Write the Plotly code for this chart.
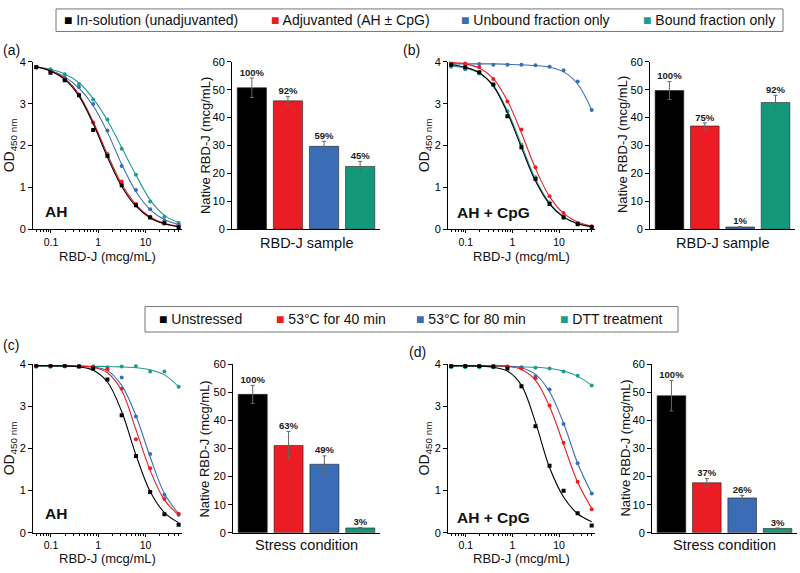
import plotly.graph_objects as go

# ---------------- data ----------------
conc = [0.0488, 0.0977, 0.1953, 0.3906, 0.7813, 1.5625, 3.125, 6.25, 12.5, 25, 50]

# Panel (a) AH : measured points and fitted curve values
a_black_pts = [3.87, 3.74, 3.56, 3.20, 2.37, 1.75, 1.05, 0.57, 0.28, 0.14, 0.05]
a_black_fit = [3.88, 3.78, 3.58, 3.18, 2.52, 1.72, 1.02, 0.55, 0.27, 0.13, 0.06]
a_red_pts = [3.87, 3.75, 3.58, 3.22, 2.55, 1.80, 1.14, 0.60, 0.30, 0.15, 0.06]
a_red_fit = [3.88, 3.79, 3.60, 3.22, 2.57, 1.79, 1.08, 0.59, 0.29, 0.14, 0.07]
a_blue_pts = [3.87, 3.78, 3.62, 3.40, 2.99, 2.36, 1.51, 0.94, 0.48, 0.20, 0.12]
a_blue_fit = [3.87, 3.79, 3.64, 3.37, 2.95, 2.32, 1.55, 0.90, 0.47, 0.23, 0.11]
a_teal_pts = [3.88, 3.82, 3.70, 3.47, 3.10, 2.62, 1.92, 1.30, 0.66, 0.30, 0.15]
a_teal_fit = [3.88, 3.82, 3.71, 3.50, 3.12, 2.60, 1.95, 1.30, 0.70, 0.33, 0.16]

# Panel (b) AH + CpG
b_black_pts = [3.93, 3.87, 3.75, 3.46, 2.70, 1.96, 1.20, 0.60, 0.28, 0.12, 0.05]
b_black_fit = [3.93, 3.87, 3.74, 3.42, 2.78, 1.95, 1.15, 0.60, 0.29, 0.13, 0.06]
b_red_pts = [4.00, 3.97, 3.87, 3.59, 3.05, 2.38, 1.48, 0.79, 0.39, 0.15, 0.07]
b_red_fit = [3.98, 3.95, 3.85, 3.60, 3.07, 2.30, 1.45, 0.78, 0.38, 0.17, 0.07]
b_blue_pts = [3.95, 3.95, 3.95, 3.93, 3.93, 3.93, 3.92, 3.88, 3.80, 3.53, 2.85]
b_blue_fit = [3.95, 3.95, 3.95, 3.95, 3.94, 3.93, 3.91, 3.87, 3.76, 3.47, 2.85]
b_teal_pts = [3.88, 3.82, 3.72, 3.45, 2.82, 2.02, 1.24, 0.64, 0.30, 0.14, 0.06]
b_teal_fit = [3.90, 3.85, 3.73, 3.44, 2.83, 2.02, 1.20, 0.63, 0.30, 0.14, 0.06]

# Panel (c) AH, stress conditions
c_black_pts = [3.97, 3.97, 3.97, 3.95, 3.90, 3.64, 2.79, 1.82, 0.97, 0.44, 0.19]
c_black_fit = [3.97, 3.97, 3.96, 3.94, 3.86, 3.58, 2.88, 1.85, 0.98, 0.48, 0.24]
c_red_pts = [3.96, 3.96, 3.96, 3.96, 3.93, 3.89, 3.42, 2.22, 1.53, 0.80, 0.45]
c_red_fit = [3.97, 3.97, 3.97, 3.96, 3.93, 3.80, 3.38, 2.45, 1.48, 0.78, 0.42]
c_blue_pts = [3.96, 3.96, 3.96, 3.96, 3.95, 3.88, 3.69, 2.76, 1.87, 0.90, 0.43]
c_blue_fit = [3.97, 3.97, 3.97, 3.96, 3.94, 3.85, 3.50, 2.78, 1.80, 0.93, 0.45]
c_teal_pts = [3.94, 3.94, 3.95, 3.95, 3.95, 3.93, 3.95, 3.96, 3.83, 3.83, 3.47]
c_teal_fit = [3.95, 3.95, 3.95, 3.95, 3.95, 3.95, 3.94, 3.92, 3.87, 3.75, 3.47]

# Panel (d) AH + CpG, stress conditions
d_black_pts = [3.96, 3.96, 3.96, 3.95, 3.90, 3.48, 2.53, 1.59, 1.00, 0.46, 0.17]
d_black_fit = [3.97, 3.97, 3.96, 3.93, 3.84, 3.50, 2.62, 1.55, 0.85, 0.45, 0.26]
d_red_pts = [3.96, 3.96, 3.96, 3.96, 3.95, 3.90, 3.67, 3.02, 2.14, 1.21, 0.56]
d_red_fit = [3.97, 3.97, 3.97, 3.97, 3.95, 3.88, 3.62, 3.00, 2.10, 1.20, 0.58]
d_blue_pts = [3.96, 3.96, 3.96, 3.96, 3.95, 3.92, 3.72, 3.40, 2.58, 1.65, 0.93]
d_blue_fit = [3.97, 3.97, 3.97, 3.97, 3.96, 3.92, 3.76, 3.35, 2.60, 1.65, 0.93]
d_teal_pts = [3.93, 3.93, 3.93, 3.93, 3.93, 3.93, 3.92, 3.90, 3.83, 3.73, 3.50]
d_teal_fit = [3.95, 3.95, 3.95, 3.95, 3.95, 3.94, 3.93, 3.90, 3.84, 3.72, 3.50]

# Bar panels
sample_cats = ["In-solution (unadjuvanted)", "Adjuvanted (AH ± CpG)",
               "Unbound fraction only", "Bound fraction only"]
stress_cats = ["Unstressed", "53°C for 40 min", "53°C for 80 min", "DTT treatment"]

a_vals = [50.7, 46.0, 29.7, 22.5]
a_err = [3.5, 1.5, 1.8, 1.8]
a_pct = ["100%", "92%", "59%", "45%"]
b_vals = [49.7, 37.0, 0.8, 45.4]
b_err = [3.2, 1.1, 0.2, 2.6]
b_pct = ["100%", "75%", "1%", "92%"]
c_vals = [49.3, 31.1, 24.4, 1.7]
c_err = [3.2, 5.0, 3.0, 0.2]
c_pct = ["100%", "63%", "49%", "3%"]
d_vals = [48.8, 17.8, 12.4, 1.5]
d_err = [5.4, 1.5, 0.9, 0.2]
d_pct = ["100%", "37%", "26%", "3%"]

# ---------------- styling ----------------
BLACK = "#000000"
RED = "#EC1C24"
BLUE = "#3A6DB5"
TEAL = "#1E9C8E"
GREEN = "#13997A"
bar_colors = [BLACK, RED, BLUE, GREEN]
curve_colors = [BLACK, RED, BLUE, TEAL]
FONT = "Liberation Sans, Arial, sans-serif"
TXT = "#111"

W, H = 800, 573
def dx(a, b):
    return [a / W, b / W]
def dy(top, bottom):
    return [1 - bottom / H, 1 - top / H]
def px(x, y):
    return x / W, 1 - y / H

fig = go.Figure()

curve_sets = {
    1: [(a_black_pts, a_black_fit), (a_red_pts, a_red_fit), (a_blue_pts, a_blue_fit), (a_teal_pts, a_teal_fit)],
    3: [(b_black_pts, b_black_fit), (b_red_pts, b_red_fit), (b_blue_pts, b_blue_fit), (b_teal_pts, b_teal_fit)],
    5: [(c_black_pts, c_black_fit), (c_red_pts, c_red_fit), (c_blue_pts, c_blue_fit), (c_teal_pts, c_teal_fit)],
    7: [(d_black_pts, d_black_fit), (d_red_pts, d_red_fit), (d_blue_pts, d_blue_fit), (d_teal_pts, d_teal_fit)],
}
for ax, sets in curve_sets.items():
    xa = "x" if ax == 1 else f"x{ax}"
    ya = "y" if ax == 1 else f"y{ax}"
    for i in [3, 2, 1, 0]:
        pts, fit = sets[i]
        col = curve_colors[i]
        fig.add_trace(go.Scatter(x=conc, y=fit, mode="lines",
                                 line=dict(color=col, width=1.1, shape="spline", smoothing=1.0),
                                 xaxis=xa, yaxis=ya, showlegend=False, hoverinfo="skip"))
        fig.add_trace(go.Scatter(x=conc, y=pts, mode="markers",
                                 marker=dict(color=col, size=4, symbol="square" if i == 0 else "circle"),
                                 xaxis=xa, yaxis=ya, showlegend=False))

bar_sets = {
    2: (sample_cats, a_vals, a_err, a_pct),
    4: (sample_cats, b_vals, b_err, b_pct),
    6: (stress_cats, c_vals, c_err, c_pct),
    8: (stress_cats, d_vals, d_err, d_pct),
}
for ax, (cats, vals, errs, pct) in bar_sets.items():
    xa, ya = f"x{ax}", f"y{ax}"
    fig.add_trace(go.Bar(x=cats, y=vals, marker=dict(color=bar_colors, line=dict(color="#222", width=0.6)),
                         error_y=dict(type="data", array=errs, color="#666", thickness=1, width=2),
                         xaxis=xa, yaxis=ya, showlegend=False))
    tops = [v + e for v, e in zip(vals, errs)]
    fig.add_trace(go.Scatter(x=cats, y=tops, mode="text", text=pct, textposition="top center",
                             textfont=dict(family=FONT, size=9.5, color="#1a1a1a", weight="bold"),
                             xaxis=xa, yaxis=ya, showlegend=False, hoverinfo="skip"))

axis_common = dict(showline=True, linecolor="#000", linewidth=1, ticks="outside", tickcolor="#000",
                   ticklen=4, showgrid=False, zeroline=False,
                   tickfont=dict(family=FONT, size=11, color="#000"), fixedrange=True)

def curve_x(dom, anchor):
    return dict(axis_common, type="log", range=[-1.38, 1.77], dtick=1, domain=dom, anchor=anchor, ticklen=3,
                tickfont=dict(family=FONT, size=10.5, color="#000"),
                minor=dict(ticks="outside", ticklen=2, tickcolor="#000", showgrid=False))
def curve_y(dom, anchor):
    return dict(axis_common, range=[0, 4], dtick=1, domain=dom, anchor=anchor,
                title=dict(text="OD<sub>450 nm</sub>", font=dict(family=FONT, size=14, color=TXT), standoff=1))
def bar_x(dom, anchor):
    return dict(showline=True, linecolor="#000", linewidth=1, ticks="", showticklabels=False,
                showgrid=False, zeroline=False, domain=dom, anchor=anchor, range=[-0.55, 3.55], fixedrange=True)
def bar_y(dom, anchor):
    return dict(axis_common, range=[0, 60], dtick=10, domain=dom, anchor=anchor)

top_y = dy(57, 228)
bot_y = dy(366, 538)

fig.update_layout(
    width=W, height=H, margin=dict(l=0, r=0, t=0, b=0),
    paper_bgcolor="white", plot_bgcolor="white", bargap=0.19, showlegend=False,
    xaxis=curve_x(dx(33, 182), "y"),
    yaxis=curve_y(top_y, "x"),
    xaxis2=bar_x(dx(232, 380), "y2"),
    yaxis2=bar_y(top_y, "x2"),
    xaxis3=curve_x(dx(448, 595), "y3"),
    yaxis3=curve_y(top_y, "x3"),
    xaxis4=bar_x(dx(650, 795), "y4"),
    yaxis4=bar_y(top_y, "x4"),
    xaxis5=curve_x(dx(33, 182), "y5"),
    yaxis5=curve_y(bot_y, "x5"),
    xaxis6=bar_x(dx(233, 380), "y6"),
    yaxis6=bar_y(bot_y, "x6"),
    xaxis7=curve_x(dx(448, 595), "y7"),
    yaxis7=curve_y(bot_y, "x7"),
    xaxis8=bar_x(dx(652, 797), "y8"),
    yaxis8=bar_y(bot_y, "x8"),
)

ann = []
def text(t, x, y, size, xanchor="center", angle=0):
    X, Y = px(x, y)
    ann.append(dict(text=t, x=X, y=Y, xref="paper", yref="paper", xanchor=xanchor, yanchor="middle",
                    showarrow=False, textangle=angle, font=dict(family=FONT, size=size, color=TXT)))

# axis titles
for xc, yc in [(107, 256), (521, 256), (107, 564), (521, 564)]:
    text("RBD-J (mcg/mL)", xc, yc, 13)
text("RBD-J sample", 306, 242, 14.5)
text("RBD-J sample", 722, 242, 14.5)
text("Stress condition", 306, 551, 14.5)
text("Stress condition", 724, 551, 14.5)
for xc, yc in [(205, 142), (622, 142), (205, 452), (626, 452)]:
    text("Native RBD-J (mcg/mL)", xc, yc, 13, angle=-90)

# panel letters
for lab, x, y in [("(a)", 1, 45), ("(b)", 401, 45), ("(c)", 1, 346), ("(d)", 407, 353)]:
    text(lab, x, y, 14, xanchor="left")
# adjuvant labels
for lab, x, y in [("AH", 43, 210), ("AH + CpG", 455, 211), ("AH", 43, 518), ("AH + CpG", 455, 522)]:
    text(f"<b>{lab}</b>", x, y, 15.5, xanchor="left")

# legends (boxes drawn as shapes, entries as text)
shapes = []
def legend(box, items, yc):
    x0, y0, x1, y1 = box
    shapes.append(dict(type="rect", xref="paper", yref="paper", x0=x0 / W, x1=x1 / W, y0=1 - y1 / H, y1=1 - y0 / H,
                       line=dict(color="#777", width=1), fillcolor="white", layer="below"))
    for (label, col, x) in items:
        text(f"<span style='color:{col}'>■</span> {label}", x, yc, 14, xanchor="left")

legend((56, 3, 783, 26), [(sample_cats[0], BLACK, 62), (sample_cats[1], RED, 269),
                          (sample_cats[2], BLUE, 459), (sample_cats[3], TEAL, 641)], 14.5)
legend((145, 307, 678, 333), [(stress_cats[0], BLACK, 157), (stress_cats[1], RED, 274),
                              (stress_cats[2], BLUE, 414), (stress_cats[3], TEAL, 558)], 320)

fig.update_layout(annotations=ann, shapes=shapes)
fig.write_html("out.html", config={"displayModeBar": False},
               post_script="document.body.style.margin='0';document.body.style.padding='0';")
